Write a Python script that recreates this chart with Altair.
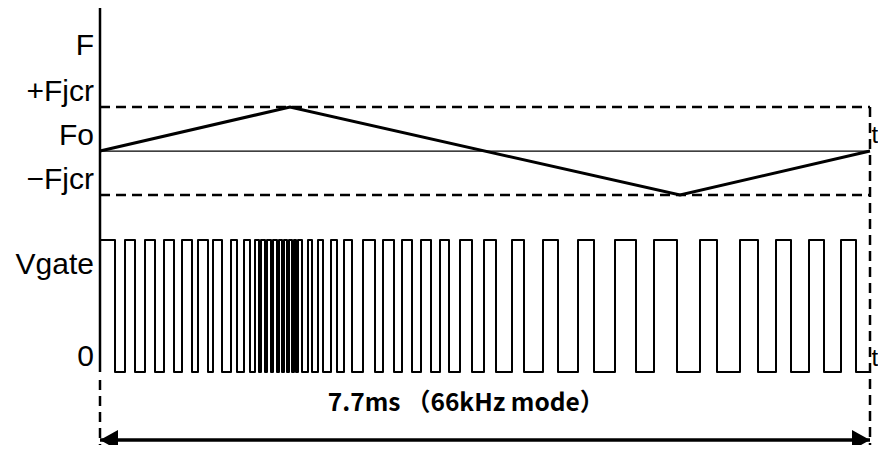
import altair as alt
import pandas as pd

# ---------------- data ----------------
T_END = 7.7  # ms, full sweep period (66 kHz mode)

# frequency sweep (triangle) : time (ms) / level (Fo = 0, +-Fjcr = +-1)
tri_t = [0.0, 1.9, 5.8, 7.7]
tri_f = [0.0, 1.0, -1.0, 0.0]

# gate pulses : rising / falling edge times (ms)
rise_t = [0.00, 0.25, 0.45, 0.64, 0.82, 0.98, 1.13, 1.31, 1.44, 1.55, 1.61, 1.67, 1.73,
          1.79, 1.84, 1.89, 1.94, 1.98, 2.08, 2.18, 2.31, 2.44, 2.63, 2.83, 3.02, 3.21,
          3.40, 3.60, 3.84, 4.12, 4.43, 4.78, 5.15, 5.54, 6.00, 6.40, 6.76, 7.09, 7.41]
fall_t = [0.15, 0.35, 0.55, 0.74, 0.92, 1.08, 1.22, 1.37, 1.50, 1.59, 1.65, 1.71, 1.77,
          1.82, 1.87, 1.92, 1.96, 2.02, 2.12, 2.23, 2.37, 2.52, 2.75, 2.94, 3.12, 3.31,
          3.49, 3.72, 3.96, 4.24, 4.58, 4.94, 5.36, 5.77, 6.17, 6.58, 6.91, 7.24, 7.56]

f_label_text = ["F", "+Fjcr", "Fo", "\u2212Fjcr"]
f_label_val = [2.05, 1.0, 0.0, -1.0]
v_label_text = ["Vgate", "0"]
v_label_val = [0.7, 0.0]
caption = "7.7ms \uff0866kHz mode\uff09"

# scale domains (F units / gate units)
F_DOMAIN = [-6.68, 3.25]
V_DOMAIN = [-0.553, 2.758]
ARROW_LEVEL = -0.515
CAPTION_LEVEL = -0.24

# ---------------- tables ----------------
tri_df = pd.DataFrame({"t": tri_t, "f": tri_f, "i": range(len(tri_t))})
pts = []
for r, f in zip(rise_t, fall_t):
    pts += [(r, 0), (r, 1), (f, 1), (f, 0)]
pts.append((T_END, 0))
gate_df = pd.DataFrame({"t": [p[0] for p in pts], "v": [p[1] for p in pts], "i": range(len(pts))})

xs = alt.Scale(domain=[0, T_END], nice=False, zero=False)
fs = alt.Scale(domain=F_DOMAIN, nice=False, zero=False)
vs = alt.Scale(domain=V_DOMAIN, nice=False, zero=False)


def X(field="t"):
    return alt.X(f"{field}:Q", scale=xs, axis=None)


def YF(field="f"):
    return alt.Y(f"{field}:Q", scale=fs, axis=None)


def YV(field="v"):
    return alt.Y(f"{field}:Q", scale=vs, axis=None)


LABEL_FONT = "Liberation Sans"
LABEL_SIZE = 30
DASH = [10, 6]

# ---- F panel ----
fo_line = alt.Chart(pd.DataFrame({"t": [0.0], "t2": [T_END], "f": [0.0]})).mark_rule(
    color="black", strokeWidth=1.2).encode(x=X(), x2="t2:Q", y=YF())
fj_lines = alt.Chart(pd.DataFrame({"t": [0.0, 0.0], "t2": [T_END, T_END], "f": [1.0, -1.0]})).mark_rule(
    color="black", strokeWidth=2.5, strokeDash=DASH).encode(x=X(), x2="t2:Q", y=YF())
right_dash = alt.Chart(pd.DataFrame({"t": [T_END], "f": [1.0], "f2": [F_DOMAIN[0]]})).mark_rule(
    color="black", strokeWidth=2.5, strokeDash=DASH).encode(x=X(), y=YF(), y2="f2:Q")
tri = alt.Chart(tri_df).mark_line(color="black", strokeWidth=3, strokeJoin="miter").encode(
    x=X(), y=YF(), order="i:Q")
f_labels = alt.Chart(pd.DataFrame({"t": [0.0] * 4, "f": f_label_val, "txt": f_label_text})).mark_text(
    align="right", baseline="alphabetic", dx=-6, dy=-6, font=LABEL_FONT, fontSize=LABEL_SIZE, color="black"
).encode(x=X(), y=YF(), text="txt:N")
t_upper = alt.Chart(pd.DataFrame({"t": [T_END], "f": [0.0], "txt": ["t"]})).mark_text(
    align="left", baseline="alphabetic", dx=1.5, dy=-8, font=LABEL_FONT, fontSize=24, color="black"
).encode(x=X(), y=YF(), text="txt:N")

f_group = alt.layer(fo_line, fj_lines, right_dash, tri, f_labels, t_upper)

# ---- gate panel ----
axis_line = alt.Chart(pd.DataFrame({"t": [0.0], "v": [V_DOMAIN[1]], "v2": [0.0]})).mark_rule(
    color="black", strokeWidth=2.5).encode(x=X(), y=YV(), y2="v2:Q")
left_dash = alt.Chart(pd.DataFrame({"t": [0.0], "v": [-0.06], "v2": [V_DOMAIN[0]]})).mark_rule(
    color="black", strokeWidth=2.5, strokeDash=DASH).encode(x=X(), y=YV(), y2="v2:Q")
gate = alt.Chart(gate_df).mark_line(color="black", strokeWidth=2, strokeJoin="round").encode(
    x=X(), y=YV(), order="i:Q")
v_labels = alt.Chart(pd.DataFrame({"t": [0.0] * 2, "v": v_label_val, "txt": v_label_text})).mark_text(
    align="right", baseline="alphabetic", dx=-6, dy=-6, font=LABEL_FONT, fontSize=LABEL_SIZE, color="black"
).encode(x=X(), y=YV(), text="txt:N")
t_lower = alt.Chart(pd.DataFrame({"t": [T_END], "v": [0.0], "txt": ["t"]})).mark_text(
    align="left", baseline="alphabetic", dx=1.5, dy=-6, font=LABEL_FONT, fontSize=24, color="black"
).encode(x=X(), y=YV(), text="txt:N")
arrow = alt.Chart(pd.DataFrame({"t": [0.0], "t2": [T_END], "v": [ARROW_LEVEL]})).mark_rule(
    color="black", strokeWidth=3.5).encode(x=X(), x2="t2:Q", y=YV())
heads = alt.Chart(pd.DataFrame({
    "t": [0.0, T_END], "v": [ARROW_LEVEL, ARROW_LEVEL],
    "shape": ["M0,0 L1,-0.56 L1,0.56 Z", "M0,0 L-1,-0.56 L-1,0.56 Z"]})).mark_point(
    filled=True, size=1296, color="black", opacity=1, strokeWidth=0).encode(
    x=X(), y=YV(), shape=alt.Shape("shape:N", scale=None))
cap = alt.Chart(pd.DataFrame({"t": [T_END / 2 - 0.19], "v": [CAPTION_LEVEL], "txt": [caption]})).mark_text(
    align="center", baseline="middle", font="Noto Sans CJK JP", fontWeight="bold", fontSize=24.5,
    color="black").encode(x=X(), y=YV(), text="txt:N")

v_group = alt.layer(axis_line, left_dash, gate, v_labels, t_lower, arrow, heads, cap)

chart = alt.layer(f_group, v_group).resolve_scale(y="independent").properties(
    width=770, height=437,
    padding={"left": 92, "right": 8, "top": 0, "bottom": 0},
    autosize=alt.AutoSizeParams(type="none"),
    background="white",
).configure_view(stroke=None)

chart.save("out.html", embed_options={"renderer": "svg", "actions": False})
